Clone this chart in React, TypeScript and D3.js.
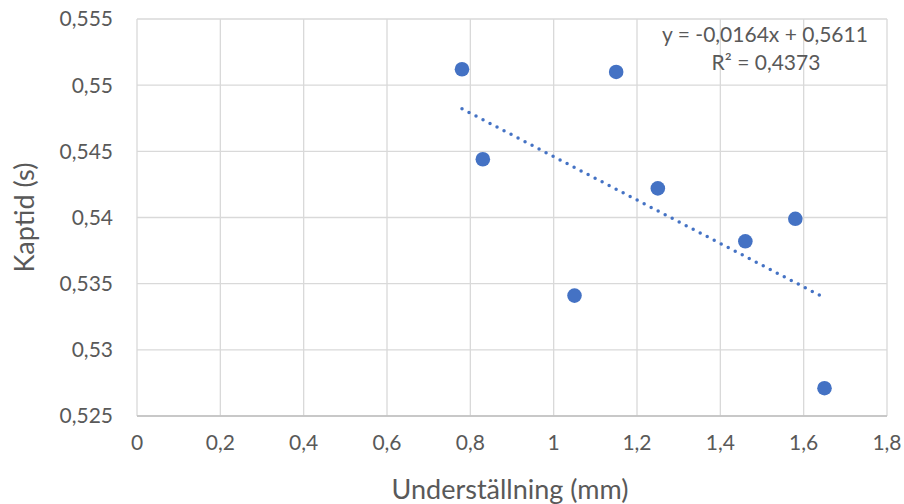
import React from "react";
import * as d3 from "d3";

const understallning = [0.78, 0.83, 1.05, 1.15, 1.25, 1.46, 1.58, 1.65];
const kaptid = [0.5512, 0.5444, 0.5341, 0.551, 0.5422, 0.5382, 0.5399, 0.5271];
const xTicks = [0, 0.2, 0.4, 0.6, 0.8, 1, 1.2, 1.4, 1.6, 1.8];
const yTicks = [0.525, 0.53, 0.535, 0.54, 0.545, 0.55, 0.555];
const xTitle = "Underställning (mm)";
const yTitle = "Kaptid (s)";
const eqText = "y = -0,0164x + 0,5611";
const r2Text = "R² = 0,4373";

const W = 904;
const H = 504;
const left = 137;
const right = 887;
const top = 19;
const bottom = 416;

const locale = d3.formatLocale({ decimal: ",", thousands: " ", grouping: [3], currency: ["", ""] });
const fmt = locale.format("~g");

const font = "Lato, 'Open Sans', sans-serif";
const textColor = "#595959";
const blue = "#4472C4";

export default function App() {
  const x = d3.scaleLinear().domain([0, 1.8]).range([left, right]);
  const y = d3.scaleLinear().domain([0.525, 0.555]).range([bottom, top]);

  // linear regression (trendline)
  const mx = d3.mean(understallning) as number;
  const my = d3.mean(kaptid) as number;
  let sxy = 0;
  let sxx = 0;
  understallning.forEach((v, i) => {
    sxy += (v - mx) * (kaptid[i] - my);
    sxx += (v - mx) * (v - mx);
  });
  const slope = sxy / sxx;
  const intercept = my - slope * mx;
  const x0 = d3.min(understallning) as number;
  const x1 = d3.max(understallning) as number;
  const line = d3
    .line<number>()
    .x((d) => x(d))
    .y((d) => y(slope * d + intercept));

  return (
    <svg
      width={W}
      height={H}
      style={{ position: "absolute", left: 0, top: 0, background: "#fff" }}
    >
      <rect x={0} y={0} width={W} height={H} fill="#fff" />
      {yTicks.map((t) => (
        <line key={"gy" + t} x1={left} x2={right} y1={y(t)} y2={y(t)} stroke="#d9d9d9" strokeWidth={1.3} />
      ))}
      {xTicks.map((t) => (
        <line key={"gx" + t} x1={x(t)} x2={x(t)} y1={top} y2={bottom} stroke="#d9d9d9" strokeWidth={1.3} />
      ))}
      <line x1={left} x2={right} y1={bottom} y2={bottom} stroke="#bfbfbf" strokeWidth={1.3} />
      {yTicks.map((t) => (
        <text
          key={"ty" + t}
          x={113}
          y={y(t)}
          dy="0.35em"
          textAnchor="end"
          fontFamily={font}
          fontSize={21}
          fill={textColor}
        >
          {fmt(t)}
        </text>
      ))}
      {xTicks.map((t) => (
        <text
          key={"tx" + t}
          x={x(t)}
          y={443}
          dy="0.35em"
          textAnchor="middle"
          fontFamily={font}
          fontSize={21}
          fill={textColor}
        >
          {fmt(t)}
        </text>
      ))}
      <path d={line([x0, x1]) as string} fill="none" stroke={blue} strokeWidth={3.5} strokeDasharray="0 7.9" strokeLinecap="round" />
      {understallning.map((v, i) => (
        <circle key={"p" + i} cx={x(v)} cy={y(kaptid[i])} r={7.3} fill={blue} />
      ))}
      <text x={765} y={35} dy="0.35em" textAnchor="middle" fontFamily={font} fontSize={21} fill={textColor}>
        {eqText}
      </text>
      <text x={766} y={63} dy="0.35em" textAnchor="middle" fontFamily={font} fontSize={21} fill={textColor}>
        {r2Text}
      </text>
      <text x={510} y={490} dy="0.35em" textAnchor="middle" fontFamily={font} fontSize={27} fill={textColor}>
        {xTitle}
      </text>
      <text
        transform={`translate(25, ${(top + bottom) / 2}) rotate(-90)`}
        dy="0.35em"
        textAnchor="middle"
        fontFamily={font}
        fontSize={27}
        fill={textColor}
      >
        {yTitle}
      </text>
    </svg>
  );
}
